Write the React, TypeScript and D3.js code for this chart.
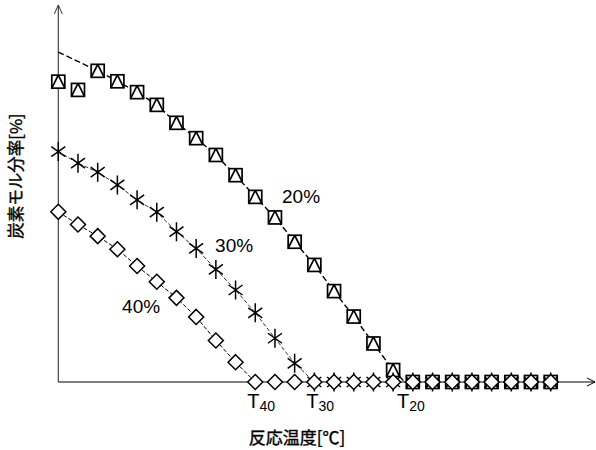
import * as React from 'react';
import * as d3 from 'd3';

// reaction temperature steps (index along the x axis)
const steps = d3.range(26);

// carbon mole fraction [%], one value per step
const series20 = [80.3, 78.1, 83.2, 80.4, 77.5, 74.1, 69.3, 65.2, 60.7, 55.3, 49.5, 44.0, 37.5, 31.3, 24.3, 17.5, 10.3, 3.2, 0, 0, 0, 0, 0, 0, 0, 0];
const series30 = [61.6, 58.5, 56.1, 52.7, 48.7, 45.4, 40.2, 35.7, 30.1, 24.6, 18.5, 11.7, 5.0, 0, 0, 0, 0, 0, 0, 0, 0, 0, 0, 0, 0, 0];
const series40 = [45.5, 42.1, 39.0, 35.5, 31.0, 26.8, 22.5, 17.4, 11.1, 5.3, 0, 0, 0, 0, 0, 0, 0, 0, 0, 0, 0, 0, 0, 0, 0, 0];

// trend line for 20% (does not pass through the first two points)
const trend20 = [
  [0, 88.2], [2, 83.2], [3, 80.4], [4, 77.5], [5, 74.1], [6, 69.3], [7, 65.2], [8, 60.7], [9, 55.3],
  [10, 49.5], [11, 44.0], [12, 37.5], [13, 31.3], [14, 24.3], [15, 17.5], [16, 10.3], [17, 3.2], [17.6, 0],
];

// temperatures where each curve reaches zero
const tLabels = [
  { name: 'T', sub: '40', t: 10 },
  { name: 'T', sub: '30', t: 13 },
  { name: 'T', sub: '20', t: 17.6 },
];

const curveLabels = [
  { text: '20%', t: 11.36, v: 47.9 },
  { text: '30%', t: 7.96, v: 34.8 },
  { text: '40%', t: 3.24, v: 18.4 },
];

const width = 596;
const height = 450;
const latin = '"Liberation Sans", Arial, sans-serif';
const cjk = '"Noto Sans CJK JP", "Noto Sans", sans-serif';

const x = d3.scaleLinear().domain([0, 27.3]).range([58.3, 596]);
const y = d3.scaleLinear().domain([0, 100]).range([382, 8]);

const line = d3.line<number[]>()
  .x(d => x(d[0]))
  .y(d => y(d[1]));

// points used by the 30%/40% lines: all non-zero values plus first zero
const throughZero = (vals: number[]) => {
  const firstZero = vals.indexOf(0);
  return vals.slice(0, firstZero + 1).map((v, i) => [i, v]);
};

const Square = ({ cx, cy }) => {
  const s = 6.5;
  return (
    <g>
      <rect x={cx - s} y={cy - s} width={2 * s} height={2 * s} fill="#fff" stroke="#000" strokeWidth={1.7} />
      <path d={`M${cx},${cy - s}L${cx - s},${cy + s}M${cx},${cy - s}L${cx + s},${cy + s}`} fill="none" stroke="#000" strokeWidth={1.7} />
    </g>
  );
};

const Star = ({ cx, cy }) => {
  // tall vertical stroke plus two diagonals
  const d = `M${cx},${cy - 9.5}L${cx},${cy + 9.5}`
    + `M${cx - 7},${cy - 5}L${cx + 7},${cy + 5}`
    + `M${cx - 7},${cy + 5}L${cx + 7},${cy - 5}`;
  return <path d={d} fill="none" stroke="#000" strokeWidth={1.5} />;
};

const Diamond = ({ cx, cy }) => {
  const r = 7.5;
  return (
    <path d={`M${cx},${cy - r}L${cx + r},${cy}L${cx},${cy + r}L${cx - r},${cy}Z`} fill="#fff" stroke="#000" strokeWidth={1.5} />
  );
};

const App = () => {
  const x0 = x(0);
  const yBase = y(0);
  return (
    <svg width={width} height={height} style={{ position: 'absolute', left: 0, top: 0, background: '#fff' }}>
      {/* axes */}
      <line x1={x0} y1={yBase} x2={x0} y2={5} stroke="#333" strokeWidth={1.1} />
      <path d={`M${x0 - 4},14L${x0},5L${x0 + 4},14`} fill="none" stroke="#333" strokeWidth={1} />
      <line x1={x0} y1={yBase} x2={595} y2={yBase} stroke="#000" strokeWidth={1.2} />
      <path d={`M587,${yBase - 4}L595,${yBase}L587,${yBase + 4}`} fill="none" stroke="#000" strokeWidth={1} />

      {/* lines */}
      <path d={line(trend20) || ''} fill="none" stroke="#000" strokeWidth={1.4} strokeDasharray="6 3" />
      <path d={line(throughZero(series30)) || ''} fill="none" stroke="#000" strokeWidth={0.8} strokeDasharray="4 2" />
      <path d={line(throughZero(series40)) || ''} fill="none" stroke="#000" strokeWidth={1} strokeDasharray="4 2" />

      {/* markers */}
      {steps.map(i => <Square key={`s${i}`} cx={x(i)} cy={y(series20[i])} />)}
      {steps.map(i => <Star key={`a${i}`} cx={x(i)} cy={y(series30[i])} />)}
      {steps.map(i => <Diamond key={`d${i}`} cx={x(i)} cy={y(series40[i])} />)}

      {/* curve labels */}
      {curveLabels.map(l => (
        <text key={l.text} x={x(l.t)} y={y(l.v)} fontFamily={latin} fontSize={19}>{l.text}</text>
      ))}

      {/* temperature labels */}
      {tLabels.map(l => (
        <text key={l.sub} x={x(l.t) - 8} y={408} fontFamily={latin} fontSize={20}>
          {l.name}
          <tspan fontSize={14} dy={3}>{l.sub}</tspan>
        </text>
      ))}

      {/* axis titles */}
      <text x={297} y={444} textAnchor="middle" fontFamily={cjk} fontSize={17} stroke="#000" strokeWidth={0.4}>反応温度[℃]</text>
      <text transform="translate(22,176) rotate(-90)" textAnchor="middle" fontFamily={cjk} fontSize={16.5} stroke="#000" strokeWidth={0.4}>炭素モル分率[%]</text>
    </svg>
  );
};

export default App;
